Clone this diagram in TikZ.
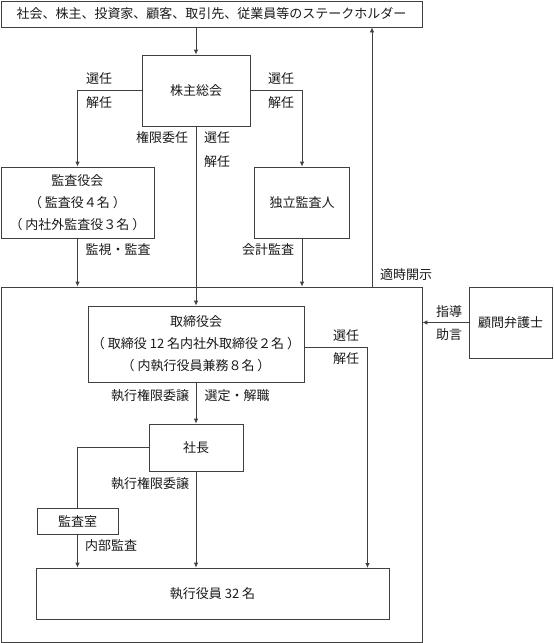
\documentclass[tikz,border=0pt]{standalone}
\usepackage{fontspec}
\setmainfont{Noto Sans CJK JP}
\usetikzlibrary{arrows.meta}
\begin{document}
\begin{tikzpicture}[x=1pt,y=-1pt,
  every node/.style={font=\fontsize{13}{22}\selectfont, text=black!90},
  box/.style={draw=black!75, line width=0.8pt, inner sep=0pt, align=center},
  lbl/.style={inner sep=0pt},
  arr/.style={draw=black!75, line width=0.8pt, -{Latex[length=5pt,width=4.5pt]}},
  ln/.style={draw=black!75, line width=0.8pt}]
\useasboundingbox (0,0) rectangle (554,643);
% boxes
\node[box, minimum width=421pt, minimum height=26pt] (top) at (211.5,14) {社会、株主、投資家、顧客、取引先、従業員等のステークホルダー};
\node[box, minimum width=108pt, minimum height=71pt] (gm) at (196,90.5) {株主総会};
\node[box, minimum width=153pt, minimum height=71pt] (kansa) at (77.5,202.5) {監査役会\\（ 監査役４名 ）\\（ 内社外監査役３名 ）};
\node[box, minimum width=95pt, minimum height=71pt] (indep) at (302,202.5) {独立監査人};
\node[box, minimum width=421pt, minimum height=355pt] (big) at (211.5,464.5) {};
\node[box, minimum width=216pt, minimum height=76pt] (board) at (196,344) {取締役会\\（ 取締役 12 名内社外取締役２名 ）\\（ 内執行役員兼務８名 ）};
\node[box, minimum width=83pt, minimum height=71pt] (lawyer) at (510.5,322.5) {顧問弁護士};
\node[box, minimum width=94pt, minimum height=47pt] (pres) at (196,447.5) {社長};
\node[box, minimum width=81pt, minimum height=26pt] (aroom) at (77.5,521) {監査室};
\node[box, minimum width=353pt, minimum height=51pt] (exec) at (212.5,593.5) {執行役員 32 名};
% coordinates
\coordinate (td) at (372,287);
\coordinate (br) at (367.5,568);
% connectors
\draw[arr] (top.south -| gm.north) -- (gm.north);
\draw[arr] (gm.west) -| (kansa.north);
\draw[arr] (gm.east) -| (indep.north);
\draw[arr] (gm.south) -- (board.north);
\draw[arr] (kansa.south) -- (kansa.south |- big.north);
\draw[arr] (indep.south) -- (indep.south |- big.north);
\draw[arr] (td) -- (td |- top.south);
\draw[arr] (lawyer.west) -- (lawyer.west -| big.east);
\draw[arr] ([yshift=-3pt]board.east) -| (br);
\draw[arr] (board.south) -- (pres.north);
\draw[ln] (pres.west) -| (aroom.north);
\draw[arr] (pres.south) -- (pres.south |- exec.north);
\draw[arr] (aroom.south) -- (aroom.south |- exec.north);
% labels
\node[lbl] (l1) at (99,79) {選任};
\node[lbl] (l2) at (99,103) {解任};
\node[lbl] (l3) at (281,79) {選任};
\node[lbl] (l4) at (281,103) {解任};
\node[lbl] (l5) at (162,138) {権限委任};
\node[lbl] (l6) at (217,138) {選任};
\node[lbl] (l7) at (217,162) {解任};
\node[lbl] (l8) at (118,250) {監視・監査};
\node[lbl] (l9) at (268,250) {会計監査};
\node[lbl] (l10) at (406,275) {適時開示};
\node[lbl] (l11) at (449,312) {指導};
\node[lbl] (l12) at (449,335) {助言};
\node[lbl] (l13) at (346,336) {選任};
\node[lbl] (l14) at (346,359) {解任};
\node[lbl] (l15) at (150,396) {執行権限委譲};
\node[lbl] (l16) at (237,396) {選定・解職};
\node[lbl] (l17) at (150,484) {執行権限委譲};
\node[lbl] (l18) at (111,546) {内部監査};
\end{tikzpicture}
\end{document}
